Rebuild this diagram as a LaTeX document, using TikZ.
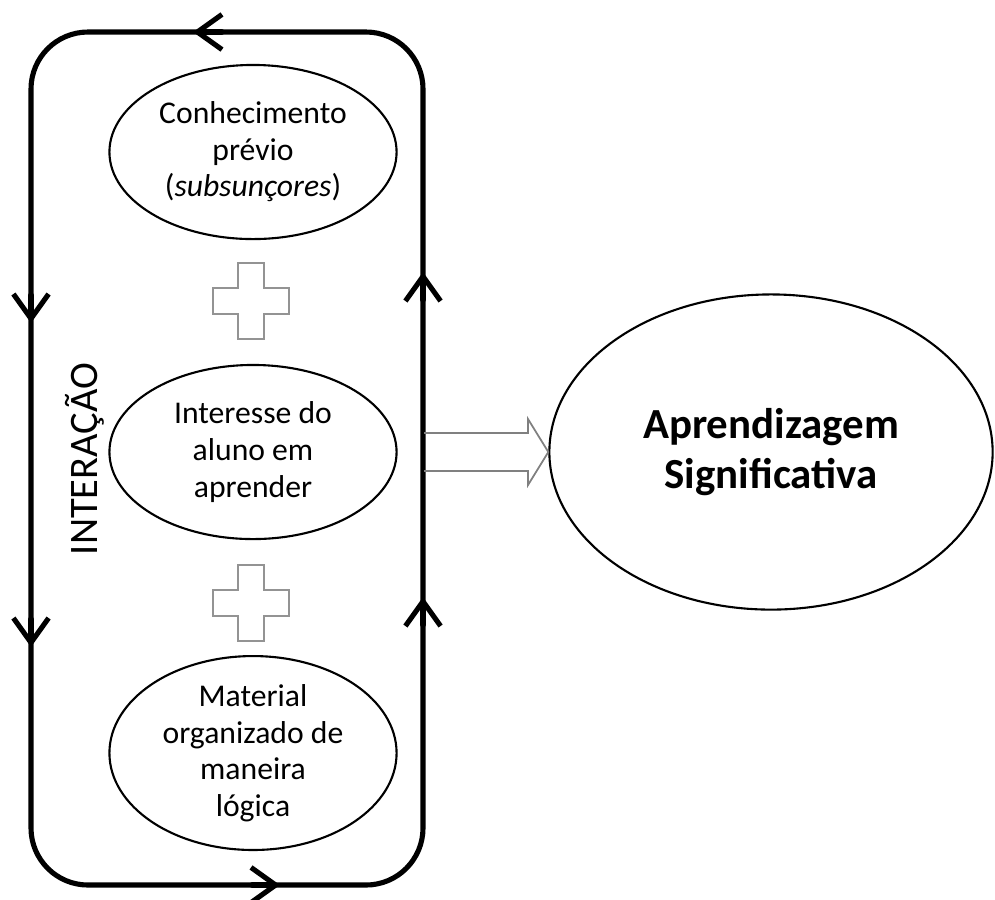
\documentclass[tikz,border=0pt]{standalone}
\usepackage{fontspec}
\setmainfont{Carlito}
\usetikzlibrary{shapes.geometric,arrows.meta}
\tikzset{
  loopline/.style={line width=1.45pt, line cap=round, line join=round},
  barb/.style={loopline, -{Straight Barb[length=7pt, width=10pt]}},
  bubble/.style={draw, ellipse, line width=0.6pt, inner sep=0pt,
    minimum width=2.87cm, minimum height=1.74cm, align=center,
    font=\fontsize{9}{10.4}\selectfont},
  plussign/.pic={
    \draw [gray!85, line width=0.5pt] (-13,-38) -- (13,-38) -- (13,-13) -- (38,-13)
      -- (38,13) -- (13,13) -- (13,38) -- (-13,38) -- (-13,13) -- (-38,13)
      -- (-38,-13) -- (-13,-13) -- cycle;
  }
}
\begin{document}
\begin{tikzpicture}[x=0.01cm, y=-0.01cm]
  \useasboundingbox (0,0) rectangle (995,899);
  \draw [loopline, rounded corners=0.57cm] (31,32) rectangle (423,885);
  \draw [barb] (222,32) -- (193,32);
  \draw [barb] (252,885) -- (280,885);
  \foreach \y in {323, 647}{
    \draw [barb] (31,\y-28) -- (31,\y);
  }
  \foreach \y in {272, 597}{
    \draw [barb] (423,\y+28) -- (423,\y);
  }
  \node [bubble] (prior) at (253,152) {Conhecimento\\prévio\\(\textit{subsunçores})};
  \node [bubble] (interest) at (253,452) {Interesse do\\aluno em\\aprender};
  \node [bubble] (material) at (253,753) {Material\\organizado de\\maneira\\lógica};
  \pic at (251,301) {plussign};
  \pic at (251,603) {plussign};
  \node [rotate=90, font=\fontsize{11.5}{14}\selectfont] (interaction) at (85,459) {INTERAÇÃO};
  \node [draw, ellipse, line width=0.6pt, inner sep=0pt, minimum width=4.43cm,
    minimum height=3.15cm, align=center,
    font=\bfseries\fontsize{12.2}{14}\selectfont] (goal) at (771,452) {Aprendizagem\\Significativa};
  \draw [gray, line width=0.5pt] (424,433) -- (528,433) -- (528,419) -- (goal.west)
    -- (528,485) -- (528,471) -- (424,471);
\end{tikzpicture}
\end{document}
